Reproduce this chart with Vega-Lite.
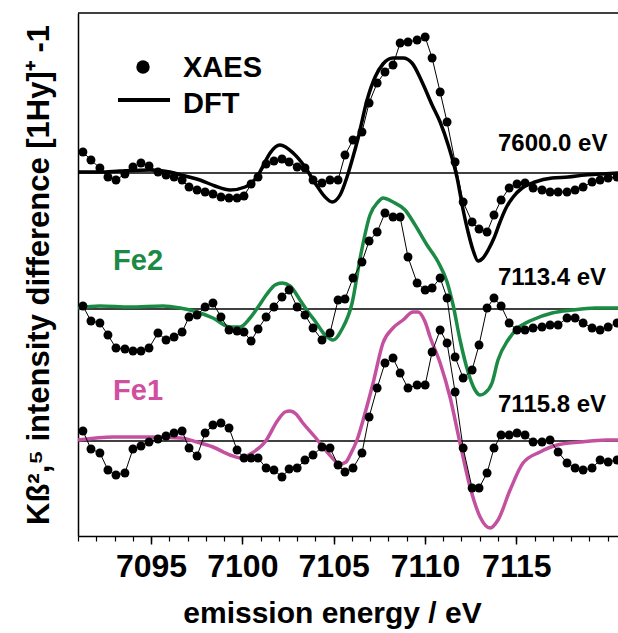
{
  "$schema": "https://vega.github.io/schema/vega-lite/v6.json",
  "width": 540,
  "height": 523,
  "autosize": "none",
  "padding": {"left": 78, "top": 13, "right": 0, "bottom": 97},
  "config": {"view": {"stroke": null}, "font": "Liberation Sans"},
  "datasets": {
    "xaes": [
      {"s":"t","E":7091.27,"y":3.84},{"s":"t","E":7091.71,"y":3.76},{"s":"t","E":7092.20,"y":3.68},{"s":"t","E":7092.64,"y":3.59},{"s":"t","E":7093.08,"y":3.56},{"s":"t","E":7093.57,"y":3.62},{"s":"t","E":7094.01,"y":3.69},{"s":"t","E":7094.45,"y":3.73},{"s":"t","E":7094.89,"y":3.70},{"s":"t","E":7095.38,"y":3.64},
      {"s":"t","E":7095.82,"y":3.61},{"s":"t","E":7096.26,"y":3.59},{"s":"t","E":7096.70,"y":3.56},{"s":"t","E":7097.08,"y":3.49},{"s":"t","E":7097.52,"y":3.46},{"s":"t","E":7097.96,"y":3.44},{"s":"t","E":7098.39,"y":3.42},{"s":"t","E":7098.83,"y":3.39},{"s":"t","E":7099.27,"y":3.38},{"s":"t","E":7099.71,"y":3.38},
      {"s":"t","E":7100.09,"y":3.40},{"s":"t","E":7100.48,"y":3.52},{"s":"t","E":7100.86,"y":3.59},{"s":"t","E":7101.30,"y":3.72},{"s":"t","E":7101.73,"y":3.75},{"s":"t","E":7102.17,"y":3.77},{"s":"t","E":7102.56,"y":3.74},{"s":"t","E":7103.00,"y":3.69},{"s":"t","E":7103.43,"y":3.68},{"s":"t","E":7103.87,"y":3.56},
      {"s":"t","E":7104.36,"y":3.53},{"s":"t","E":7104.80,"y":3.56},{"s":"t","E":7105.24,"y":3.56},{"s":"t","E":7105.62,"y":3.81},{"s":"t","E":7106.06,"y":3.96},{"s":"t","E":7106.55,"y":4.04},{"s":"t","E":7106.94,"y":4.33},{"s":"t","E":7107.38,"y":4.53},{"s":"t","E":7107.81,"y":4.64},{"s":"t","E":7108.25,"y":4.71},
      {"s":"t","E":7108.64,"y":4.93},{"s":"t","E":7109.07,"y":4.94},{"s":"t","E":7109.57,"y":4.96},{"s":"t","E":7110.01,"y":4.99},{"s":"t","E":7110.39,"y":4.78},{"s":"t","E":7110.83,"y":4.44},{"s":"t","E":7111.21,"y":4.14},{"s":"t","E":7111.65,"y":3.74},{"s":"t","E":7112.09,"y":3.34},{"s":"t","E":7112.58,"y":3.14},
      {"s":"t","E":7112.96,"y":3.07},{"s":"t","E":7113.40,"y":3.04},{"s":"t","E":7113.78,"y":3.21},{"s":"t","E":7114.17,"y":3.36},{"s":"t","E":7114.61,"y":3.48},{"s":"t","E":7115.04,"y":3.52},{"s":"t","E":7115.48,"y":3.53},{"s":"t","E":7115.92,"y":3.48},{"s":"t","E":7116.41,"y":3.46},{"s":"t","E":7116.85,"y":3.44},
      {"s":"t","E":7117.29,"y":3.44},{"s":"t","E":7117.78,"y":3.44},{"s":"t","E":7118.22,"y":3.46},{"s":"t","E":7118.66,"y":3.49},{"s":"t","E":7119.15,"y":3.54},{"s":"t","E":7119.59,"y":3.56},{"s":"t","E":7120.03,"y":3.58},{"s":"t","E":7120.52,"y":3.59},

      {"s":"m","E":7091.27,"y":2.30},{"s":"m","E":7091.71,"y":2.15},{"s":"m","E":7092.20,"y":2.13},{"s":"m","E":7092.64,"y":2.01},{"s":"m","E":7093.08,"y":1.88},{"s":"m","E":7093.57,"y":1.87},{"s":"m","E":7094.01,"y":1.85},{"s":"m","E":7094.45,"y":1.85},{"s":"m","E":7094.89,"y":1.88},{"s":"m","E":7095.38,"y":2.03},
      {"s":"m","E":7095.82,"y":1.96},{"s":"m","E":7096.26,"y":1.99},{"s":"m","E":7096.70,"y":2.04},{"s":"m","E":7097.08,"y":2.19},{"s":"m","E":7097.52,"y":2.21},{"s":"m","E":7097.96,"y":2.29},{"s":"m","E":7098.39,"y":2.33},{"s":"m","E":7098.83,"y":2.19},{"s":"m","E":7099.27,"y":2.06},{"s":"m","E":7099.71,"y":2.05},
      {"s":"m","E":7100.09,"y":2.04},{"s":"m","E":7100.48,"y":1.95},{"s":"m","E":7100.86,"y":2.07},{"s":"m","E":7101.30,"y":2.19},{"s":"m","E":7101.73,"y":2.29},{"s":"m","E":7102.17,"y":2.39},{"s":"m","E":7102.56,"y":2.46},{"s":"m","E":7103.00,"y":2.29},{"s":"m","E":7103.43,"y":2.21},{"s":"m","E":7103.87,"y":2.08},
      {"s":"m","E":7104.36,"y":1.96},{"s":"m","E":7104.80,"y":2.03},{"s":"m","E":7105.24,"y":2.36},{"s":"m","E":7105.62,"y":2.37},{"s":"m","E":7106.06,"y":2.58},{"s":"m","E":7106.55,"y":2.74},{"s":"m","E":7106.94,"y":2.95},{"s":"m","E":7107.38,"y":3.04},{"s":"m","E":7107.81,"y":3.23},{"s":"m","E":7108.25,"y":3.19},
      {"s":"m","E":7108.64,"y":3.19},{"s":"m","E":7109.07,"y":2.79},{"s":"m","E":7109.57,"y":2.53},{"s":"m","E":7110.01,"y":2.46},{"s":"m","E":7110.39,"y":2.48},{"s":"m","E":7110.83,"y":2.58},{"s":"m","E":7111.21,"y":2.38},{"s":"m","E":7111.65,"y":1.79},{"s":"m","E":7112.09,"y":1.58},{"s":"m","E":7112.58,"y":1.66},
      {"s":"m","E":7112.96,"y":1.91},{"s":"m","E":7113.40,"y":2.28},{"s":"m","E":7113.78,"y":2.38},{"s":"m","E":7114.17,"y":2.30},{"s":"m","E":7114.61,"y":2.13},{"s":"m","E":7115.04,"y":2.06},{"s":"m","E":7115.48,"y":2.06},{"s":"m","E":7115.92,"y":2.08},{"s":"m","E":7116.41,"y":2.09},{"s":"m","E":7116.85,"y":2.11},
      {"s":"m","E":7117.29,"y":2.11},{"s":"m","E":7117.78,"y":2.18},{"s":"m","E":7118.22,"y":2.18},{"s":"m","E":7118.66,"y":2.13},{"s":"m","E":7119.15,"y":2.08},{"s":"m","E":7119.59,"y":2.06},{"s":"m","E":7120.03,"y":2.09},{"s":"m","E":7120.52,"y":2.13},

      {"s":"b","E":7091.27,"y":1.05},{"s":"b","E":7091.71,"y":0.87},{"s":"b","E":7092.20,"y":0.83},{"s":"b","E":7092.64,"y":0.66},{"s":"b","E":7093.08,"y":0.61},{"s":"b","E":7093.57,"y":0.63},{"s":"b","E":7094.01,"y":0.87},{"s":"b","E":7094.45,"y":0.90},{"s":"b","E":7094.89,"y":0.94},{"s":"b","E":7095.38,"y":0.97},
      {"s":"b","E":7095.82,"y":1.00},{"s":"b","E":7096.26,"y":1.03},{"s":"b","E":7096.70,"y":1.05},{"s":"b","E":7097.08,"y":0.88},{"s":"b","E":7097.52,"y":0.80},{"s":"b","E":7097.96,"y":1.03},{"s":"b","E":7098.39,"y":1.11},{"s":"b","E":7098.83,"y":1.13},{"s":"b","E":7099.27,"y":1.08},{"s":"b","E":7099.71,"y":0.86},
      {"s":"b","E":7100.09,"y":0.78},{"s":"b","E":7100.48,"y":0.78},{"s":"b","E":7100.86,"y":0.78},{"s":"b","E":7101.30,"y":0.68},{"s":"b","E":7101.73,"y":0.66},{"s":"b","E":7102.17,"y":0.59},{"s":"b","E":7102.56,"y":0.67},{"s":"b","E":7103.00,"y":0.68},{"s":"b","E":7103.43,"y":0.76},{"s":"b","E":7103.87,"y":0.81},
      {"s":"b","E":7104.36,"y":0.89},{"s":"b","E":7104.80,"y":0.88},{"s":"b","E":7105.24,"y":0.71},{"s":"b","E":7105.62,"y":0.64},{"s":"b","E":7106.06,"y":0.68},{"s":"b","E":7106.55,"y":0.83},{"s":"b","E":7106.94,"y":1.19},{"s":"b","E":7107.38,"y":1.48},{"s":"b","E":7107.81,"y":1.73},{"s":"b","E":7108.25,"y":1.78},
      {"s":"b","E":7108.64,"y":1.63},{"s":"b","E":7109.07,"y":1.48},{"s":"b","E":7109.57,"y":1.51},{"s":"b","E":7110.01,"y":1.51},{"s":"b","E":7110.39,"y":1.84},{"s":"b","E":7110.83,"y":2.06},{"s":"b","E":7111.21,"y":1.93},{"s":"b","E":7111.65,"y":1.44},{"s":"b","E":7112.09,"y":0.88},{"s":"b","E":7112.58,"y":0.48},
      {"s":"b","E":7112.96,"y":0.48},{"s":"b","E":7113.40,"y":0.63},{"s":"b","E":7113.78,"y":0.88},{"s":"b","E":7114.17,"y":1.01},{"s":"b","E":7114.61,"y":1.01},{"s":"b","E":7115.04,"y":1.03},{"s":"b","E":7115.48,"y":1.01},{"s":"b","E":7115.92,"y":0.94},{"s":"b","E":7116.41,"y":0.94},{"s":"b","E":7116.85,"y":0.96},
      {"s":"b","E":7117.29,"y":0.84},{"s":"b","E":7117.78,"y":0.73},{"s":"b","E":7118.22,"y":0.68},{"s":"b","E":7118.66,"y":0.66},{"s":"b","E":7119.15,"y":0.68},{"s":"b","E":7119.59,"y":0.76},{"s":"b","E":7120.03,"y":0.74},{"s":"b","E":7120.52,"y":0.76}
    ],
    "dft": [
      {"s":"7600","E":7091.00,"y":3.64},{"s":"7600","E":7092.20,"y":3.64},{"s":"7600","E":7093.30,"y":3.65},{"s":"7600","E":7094.94,"y":3.66},{"s":"7600","E":7096.04,"y":3.64},{"s":"7600","E":7096.86,"y":3.60},{"s":"7600","E":7097.68,"y":3.56},{"s":"7600","E":7098.50,"y":3.50},{"s":"7600","E":7099.33,"y":3.46},{"s":"7600","E":7100.15,"y":3.49},
      {"s":"7600","E":7100.86,"y":3.61},{"s":"7600","E":7101.24,"y":3.74},{"s":"7600","E":7101.52,"y":3.83},{"s":"7600","E":7102.06,"y":3.91},{"s":"7600","E":7102.78,"y":3.83},{"s":"7600","E":7103.43,"y":3.69},{"s":"7600","E":7103.98,"y":3.53},{"s":"7600","E":7104.53,"y":3.39},{"s":"7600","E":7104.91,"y":3.34},{"s":"7600","E":7105.35,"y":3.41},
      {"s":"7600","E":7105.73,"y":3.59},{"s":"7600","E":7106.01,"y":3.76},{"s":"7600","E":7106.34,"y":3.98},{"s":"7600","E":7106.83,"y":4.36},{"s":"7600","E":7107.27,"y":4.59},{"s":"7600","E":7107.70,"y":4.72},{"s":"7600","E":7108.25,"y":4.78},{"s":"7600","E":7108.80,"y":4.78},{"s":"7600","E":7109.29,"y":4.73},{"s":"7600","E":7109.84,"y":4.54},
      {"s":"7600","E":7110.39,"y":4.31},{"s":"7600","E":7110.83,"y":4.14},{"s":"7600","E":7111.27,"y":3.91},{"s":"7600","E":7111.76,"y":3.58},{"s":"7600","E":7112.09,"y":3.26},{"s":"7600","E":7112.36,"y":3.04},{"s":"7600","E":7112.63,"y":2.86},{"s":"7600","E":7112.91,"y":2.75},{"s":"7600","E":7113.18,"y":2.78},{"s":"7600","E":7113.46,"y":2.86},
      {"s":"7600","E":7113.78,"y":2.98},{"s":"7600","E":7114.11,"y":3.14},{"s":"7600","E":7114.44,"y":3.28},{"s":"7600","E":7114.83,"y":3.39},{"s":"7600","E":7115.32,"y":3.48},{"s":"7600","E":7116.03,"y":3.54},{"s":"7600","E":7116.96,"y":3.58},{"s":"7600","E":7117.84,"y":3.59},{"s":"7600","E":7118.77,"y":3.61},{"s":"7600","E":7119.70,"y":3.62},{"s":"7600","E":7120.69,"y":3.63},

      {"s":"Fe2","E":7091.00,"y":2.28},{"s":"Fe2","E":7092.20,"y":2.30},{"s":"Fe2","E":7093.85,"y":2.29},{"s":"Fe2","E":7095.66,"y":2.30},{"s":"Fe2","E":7096.59,"y":2.28},{"s":"Fe2","E":7097.52,"y":2.24},{"s":"Fe2","E":7098.39,"y":2.18},{"s":"Fe2","E":7099.33,"y":2.09},{"s":"Fe2","E":7099.87,"y":2.09},{"s":"Fe2","E":7100.42,"y":2.18},
      {"s":"Fe2","E":7100.86,"y":2.29},{"s":"Fe2","E":7101.35,"y":2.42},{"s":"Fe2","E":7101.79,"y":2.51},{"s":"Fe2","E":7102.17,"y":2.53},{"s":"Fe2","E":7102.61,"y":2.50},{"s":"Fe2","E":7103.16,"y":2.36},{"s":"Fe2","E":7103.60,"y":2.24},{"s":"Fe2","E":7103.98,"y":2.15},{"s":"Fe2","E":7104.53,"y":2.01},{"s":"Fe2","E":7104.97,"y":1.96},
      {"s":"Fe2","E":7105.46,"y":2.07},{"s":"Fe2","E":7106.01,"y":2.33},{"s":"Fe2","E":7106.45,"y":2.78},{"s":"Fe2","E":7106.99,"y":3.21},{"s":"Fe2","E":7107.43,"y":3.34},{"s":"Fe2","E":7107.70,"y":3.38},{"s":"Fe2","E":7108.25,"y":3.34},{"s":"Fe2","E":7108.91,"y":3.26},{"s":"Fe2","E":7109.46,"y":3.11},{"s":"Fe2","E":7110.11,"y":2.91},
      {"s":"Fe2","E":7110.72,"y":2.74},{"s":"Fe2","E":7111.21,"y":2.54},{"s":"Fe2","E":7111.54,"y":2.31},{"s":"Fe2","E":7111.92,"y":1.96},{"s":"Fe2","E":7112.36,"y":1.64},{"s":"Fe2","E":7112.74,"y":1.46},{"s":"Fe2","E":7113.02,"y":1.41},{"s":"Fe2","E":7113.29,"y":1.43},{"s":"Fe2","E":7113.67,"y":1.53},{"s":"Fe2","E":7114.00,"y":1.76},
      {"s":"Fe2","E":7114.55,"y":1.96},{"s":"Fe2","E":7115.10,"y":2.08},{"s":"Fe2","E":7115.87,"y":2.16},{"s":"Fe2","E":7116.96,"y":2.23},{"s":"Fe2","E":7118.06,"y":2.26},{"s":"Fe2","E":7119.32,"y":2.28},{"s":"Fe2","E":7120.69,"y":2.28},

      {"s":"Fe1","E":7091.00,"y":0.96},{"s":"Fe1","E":7092.92,"y":0.99},{"s":"Fe1","E":7094.78,"y":0.99},{"s":"Fe1","E":7096.59,"y":0.98},{"s":"Fe1","E":7097.52,"y":0.94},{"s":"Fe1","E":7098.39,"y":0.89},{"s":"Fe1","E":7099.33,"y":0.81},{"s":"Fe1","E":7099.87,"y":0.78},{"s":"Fe1","E":7100.53,"y":0.83},{"s":"Fe1","E":7101.24,"y":0.94},
      {"s":"Fe1","E":7101.95,"y":1.16},{"s":"Fe1","E":7102.34,"y":1.24},{"s":"Fe1","E":7102.61,"y":1.25},{"s":"Fe1","E":7102.94,"y":1.22},{"s":"Fe1","E":7103.27,"y":1.14},{"s":"Fe1","E":7103.98,"y":0.99},{"s":"Fe1","E":7104.69,"y":0.83},{"s":"Fe1","E":7105.35,"y":0.72},{"s":"Fe1","E":7105.68,"y":0.74},{"s":"Fe1","E":7105.90,"y":0.81},
      {"s":"Fe1","E":7106.28,"y":0.96},{"s":"Fe1","E":7106.72,"y":1.23},{"s":"Fe1","E":7107.16,"y":1.53},{"s":"Fe1","E":7107.70,"y":1.93},{"s":"Fe1","E":7108.25,"y":2.08},{"s":"Fe1","E":7108.80,"y":2.16},{"s":"Fe1","E":7109.35,"y":2.24},{"s":"Fe1","E":7109.62,"y":2.24},{"s":"Fe1","E":7110.01,"y":2.14},{"s":"Fe1","E":7110.28,"y":1.99},
      {"s":"Fe1","E":7110.83,"y":1.73},{"s":"Fe1","E":7111.37,"y":1.39},{"s":"Fe1","E":7111.92,"y":0.93},{"s":"Fe1","E":7112.47,"y":0.49},{"s":"Fe1","E":7113.02,"y":0.19},{"s":"Fe1","E":7113.57,"y":0.08},{"s":"Fe1","E":7114.00,"y":0.16},{"s":"Fe1","E":7114.66,"y":0.46},{"s":"Fe1","E":7115.37,"y":0.73},{"s":"Fe1","E":7116.30,"y":0.84},
      {"s":"Fe1","E":7117.24,"y":0.91},{"s":"Fe1","E":7118.50,"y":0.94},{"s":"Fe1","E":7119.97,"y":0.96},{"s":"Fe1","E":7120.69,"y":0.96}
    ]
  },
  "layer": [
    {
      "data": {"values": [{"y": 3.63}, {"y": 2.27}, {"y": 0.95}, {"y": 5.23}]},
      "mark": {"type": "rule", "color": "black", "strokeWidth": 1.6},
      "encoding": {
        "y": {"field": "y", "type": "quantitative", "scale": {"domain": [0, 5.23], "nice": false, "zero": false}, "axis": null}
      }
    },
    {
      "data": {"name": "dft"},
      "mark": {"type": "line", "strokeWidth": 3.5, "clip": true, "interpolate": "monotone"},
      "encoding": {
        "x": {"field": "E", "type": "quantitative", "scale": {"domain": [7091, 7120.57], "nice": false, "zero": false},
          "axis": {"values": [7095, 7100, 7105, 7110, 7115], "format": "d", "orient": "bottom", "grid": false,
            "labelFont": "Liberation Sans", "labelFontSize": 32, "labelFontWeight": "bold", "labelColor": "black", "labelPadding": 7,
            "tickColor": "black", "tickSize": 8, "tickWidth": 1.5, "domainColor": "black", "domainWidth": 1.5,
            "title": "emission energy / eV", "titleFont": "Liberation Sans", "titleFontSize": 30, "titleFontWeight": "bold", "titleColor": "black", "titlePadding": 16,
            "titleX": 254, "titleAlign": "center"}},
        "y": {"field": "y", "type": "quantitative", "scale": {"domain": [0, 5.23], "nice": false, "zero": false},
          "axis": {"ticks": false, "labels": false, "grid": false, "domainColor": "black", "domainWidth": 1.5,
            "title": "Kß²,⁵ intensity difference [1Hy]⁺ -1", "titleFont": "Liberation Sans", "titleFontSize": 31, "titleFontWeight": "bold", "titleColor": "black", "titlePadding": 23}},
        "color": {"field": "s", "type": "nominal", "scale": {"domain": ["7600", "Fe2", "Fe1"], "range": ["#000000", "#1b8a45", "#c4519f"]}, "legend": null},
        "detail": {"field": "s"}
      }
    },
    {
      "data": {"name": "xaes"},
      "mark": {"type": "line", "color": "black", "strokeWidth": 1, "clip": true},
      "encoding": {
        "x": {"field": "E", "type": "quantitative", "scale": {"domain": [7091, 7120.57], "nice": false, "zero": false}, "axis": null},
        "y": {"field": "y", "type": "quantitative", "scale": {"domain": [0, 5.23], "nice": false, "zero": false}, "axis": null},
        "detail": {"field": "s"}
      }
    },
    {
      "data": {"name": "xaes"},
      "mark": {"type": "circle", "color": "black", "opacity": 1, "size": 80, "clip": true},
      "encoding": {
        "x": {"field": "E", "type": "quantitative", "scale": {"domain": [7091, 7120.57], "nice": false, "zero": false},
          "axis": {"values": [7091,7092,7093,7094,7095,7096,7097,7098,7099,7100,7101,7102,7103,7104,7105,7106,7107,7108,7109,7110,7111,7112,7113,7114,7115,7116,7117,7118,7119,7120],
            "orient": "bottom", "labels": false, "domain": false, "grid": false, "tickColor": "black", "tickSize": 5, "tickWidth": 1.2, "title": null}},
        "y": {"field": "y", "type": "quantitative", "scale": {"domain": [0, 5.23], "nice": false, "zero": false}, "axis": null}
      }
    },
    {
      "data": {"values": [{"E": 7094.56, "y": 4.69}]},
      "mark": {"type": "circle", "color": "black", "opacity": 1, "size": 180},
      "encoding": {
        "x": {"field": "E", "type": "quantitative", "scale": {"domain": [7091, 7120.57], "nice": false, "zero": false}, "axis": null},
        "y": {"field": "y", "type": "quantitative", "scale": {"domain": [0, 5.23], "nice": false, "zero": false}, "axis": null}
      }
    },
    {
      "data": {"values": [{"E": 7093.19, "y": 4.36}, {"E": 7096.04, "y": 4.36}]},
      "mark": {"type": "line", "color": "black", "strokeWidth": 4},
      "encoding": {
        "x": {"field": "E", "type": "quantitative", "scale": {"domain": [7091, 7120.57], "nice": false, "zero": false}, "axis": null},
        "y": {"field": "y", "type": "quantitative", "scale": {"domain": [0, 5.23], "nice": false, "zero": false}, "axis": null}
      }
    },
    {
      "data": {"values": [{"E": 7096.75, "y": 4.68, "t": "XAES"}, {"E": 7096.75, "y": 4.32, "t": "DFT"}]},
      "mark": {"type": "text", "align": "left", "baseline": "middle", "font": "Liberation Sans", "fontSize": 29, "fontWeight": "bold", "color": "black"},
      "encoding": {
        "x": {"field": "E", "type": "quantitative", "scale": {"domain": [7091, 7120.57], "nice": false, "zero": false}, "axis": null},
        "y": {"field": "y", "type": "quantitative", "scale": {"domain": [0, 5.23], "nice": false, "zero": false}, "axis": null},
        "text": {"field": "t"}
      }
    },
    {
      "data": {"values": [{"E": 7114.0, "y": 3.92, "t": "7600.0 eV"}, {"E": 7114.0, "y": 2.58, "t": "7113.4 eV"}, {"E": 7114.0, "y": 1.31, "t": "7115.8 eV"}]},
      "mark": {"type": "text", "align": "left", "baseline": "middle", "font": "Liberation Sans", "fontSize": 24, "fontWeight": "bold", "color": "black"},
      "encoding": {
        "x": {"field": "E", "type": "quantitative", "scale": {"domain": [7091, 7120.57], "nice": false, "zero": false}, "axis": null},
        "y": {"field": "y", "type": "quantitative", "scale": {"domain": [0, 5.23], "nice": false, "zero": false}, "axis": null},
        "text": {"field": "t"}
      }
    },
    {
      "data": {"values": [{"E": 7092.92, "y": 2.75, "t": "Fe2"}, {"E": 7092.92, "y": 1.45, "t": "Fe1"}]},
      "mark": {"type": "text", "align": "left", "baseline": "middle", "font": "Liberation Sans", "fontSize": 29, "fontWeight": "bold"},
      "encoding": {
        "x": {"field": "E", "type": "quantitative", "scale": {"domain": [7091, 7120.57], "nice": false, "zero": false}, "axis": null},
        "y": {"field": "y", "type": "quantitative", "scale": {"domain": [0, 5.23], "nice": false, "zero": false}, "axis": null},
        "text": {"field": "t"},
        "color": {"field": "t", "type": "nominal", "scale": {"domain": ["Fe2", "Fe1"], "range": ["#1b8a45", "#d04fa0"]}, "legend": null}
      }
    }
  ],
  "resolve": {"axis": {"x": "independent", "y": "independent"}, "scale": {"color": "independent"}}
}
